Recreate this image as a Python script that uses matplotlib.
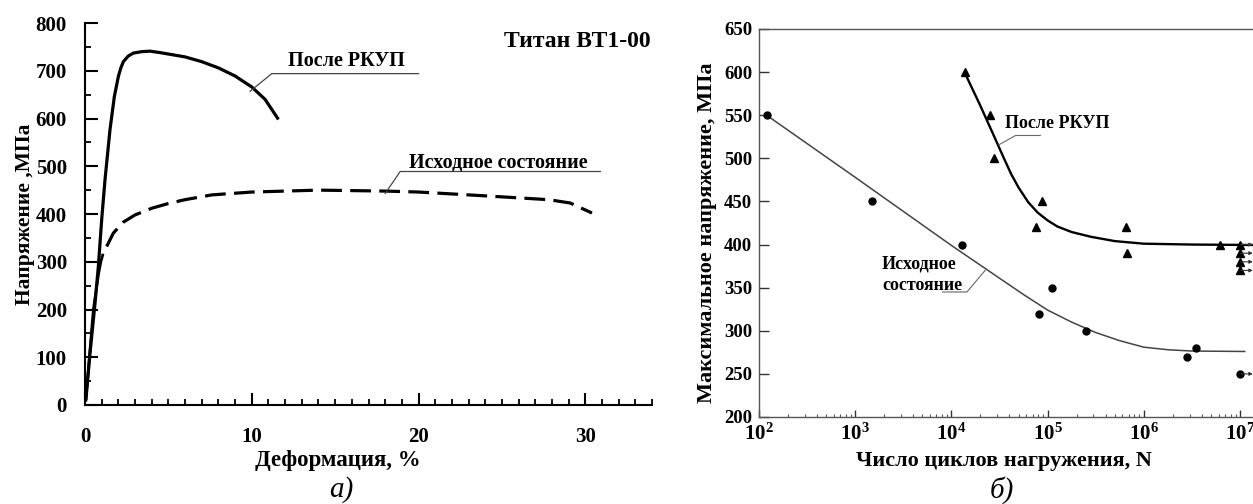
import numpy as np
import matplotlib
matplotlib.use('Agg')
import matplotlib.pyplot as plt

plt.rcParams['font.family'] = ['Liberation Serif', 'DejaVu Serif']
plt.rcParams['font.weight'] = 'bold'
plt.rcParams['mathtext.fontset'] = 'custom'
plt.rcParams['mathtext.rm'] = 'Liberation Serif:bold'
plt.rcParams['mathtext.it'] = 'Liberation Serif:bold'
plt.rcParams['mathtext.bf'] = 'Liberation Serif:bold'

# --- a) stress-strain curves, titanium VT1-00 ---
ecap_strain = [0.05, 0.3, 0.6, 0.8, 1.0, 1.2, 1.5, 1.76, 2.0, 2.15, 2.3, 2.6, 2.9, 3.4, 3.9,
               4.5, 5.0, 6.0, 7.0, 8.0, 9.0, 10.0, 10.8, 11.6]
ecap_stress = [10, 108, 213, 290, 388, 472, 577, 646, 688, 706, 719, 731, 737, 740, 741,
               738, 735, 729, 719, 706, 689, 666, 640, 598]

init_elastic_strain = [0.05, 0.5, 0.8, 0.95, 1.06]
init_elastic_stress = [10, 199, 272, 300, 314]

init_strain = [1.3, 1.7, 2.3, 3.0, 4.0, 5.0, 6.0, 7.6, 10, 14, 18, 20, 24, 27.8, 29.1, 30.4]
init_stress = [332, 360, 383, 398, 412, 422, 430, 440, 446, 450, 448, 446, 438, 430, 423, 402]

# --- b) fatigue (S-N) data ---
init_N = [1.2e2, 1.5e3, 1.3e4, 8.1e4, 1.1e5, 2.5e5, 2.8e6, 3.5e6, 1e7]
init_S = [550, 450, 400, 320, 350, 300, 270, 280, 250]
ecap_N = [1.4e4, 2.5e4, 2.8e4, 8.7e4, 7.6e4, 6.5e5, 6.7e5, 6.2e6, 1e7, 1e7, 1e7, 1e7]
ecap_S = [600, 550, 500, 450, 420, 420, 390, 400, 400, 390, 380, 370]

init_fit_N = [1.2e2, 1e3, 1e4, 3.16e4, 5.62e4, 1e5, 1.78e5, 3.16e5, 5.62e5, 1e6, 1.78e6,
              3.16e6, 1.12e7]
init_fit_S = [550, 478, 399, 361, 342, 324, 310, 298, 288.5, 281, 278, 276.5, 276]
ecap_fit_N = [1.38e4, 2e4, 2.82e4, 3.55e4, 4.17e4, 5e4, 6.3e4, 7.9e4, 1e5, 1.26e5, 1.78e5,
              2.82e5, 5e5, 1e6, 3.16e6, 1.35e7]
ecap_fit_S = [599, 561, 524, 499, 482, 466, 449, 437, 428, 421, 414.5, 409, 404, 401, 400, 399.5]

runout_N = 1e7
runout_ecap = [400, 390, 380, 370]
runout_init = [250]

sn_ticks = [1e2, 1e3, 1e4, 1e5, 1e6, 1e7]
sn_tick_labels = ['$10^{2}$', '$10^{3}$', '$10^{4}$', '$10^{5}$', '$10^{6}$', '$10^{7}$']

W, H = 1253, 504
fig = plt.figure(figsize=(W / 100, H / 100), dpi=100)

# left panel
ax1 = fig.add_axes([85 / W, 1 - 405 / H, 567 / W, 382 / H])
ax1.plot(ecap_strain, ecap_stress, color='black', lw=2.3, solid_capstyle='butt')
ax1.plot(init_elastic_strain, init_elastic_stress, color='black', lw=2.0)
ax1.plot(init_strain, init_stress, color='black', lw=2.3, dashes=(6.5, 2.6))
ax1.set_xlim(0, 34)
ax1.set_ylim(0, 800)
ax1.set_xticks([0, 10, 20, 30])
ax1.set_xticks(np.arange(0, 35, 1), minor=True)
ax1.set_yticks(np.arange(0, 801, 100))
ax1.set_yticks(np.arange(0, 801, 50), minor=True)
ax1.spines['top'].set_visible(False)
ax1.spines['right'].set_visible(False)
for s in ['left', 'bottom']:
    ax1.spines[s].set_linewidth(1.5)
ax1.tick_params(which='major', direction='in', length=9, width=1.5, labelsize=15)
ax1.tick_params(which='minor', direction='in', length=4, width=1.3)
ax1.tick_params(axis='x', which='major', pad=16)
ax1.tick_params(axis='y', which='major', pad=13)
ax1.set_xlabel('Деформация, %', fontsize=16.5, fontweight='bold')
ax1.xaxis.set_label_coords(0.445, -0.145)
ax1.xaxis.label.set_va('center')
ax1.set_ylabel('Напряжение ,МПа', fontsize=15.5, fontweight='bold')
ax1.yaxis.set_label_coords(-0.105, 0.5)
ax1.yaxis.label.set_va('center')

ax1.text(33.9, 761, 'Титан ВТ1-00', ha='right', va='center', fontsize=17, fontweight='bold')
ax1.text(15.7, 720, 'После РКУП', ha='center', va='center', fontsize=14.5, fontweight='bold')
ax1.plot([9.9, 11.2, 20.0], [657, 694, 694], color='#444444', lw=0.9)
ax1.text(24.8, 507, 'Исходное состояние', ha='center', va='center', fontsize=14.5, fontweight='bold')
ax1.plot([18.0, 18.9, 30.9], [443, 489, 489], color='#444444', lw=0.9)

fig.text(341 / W, 1 - 490 / H, 'а)', ha='center', va='center', fontsize=21,
         fontstyle='italic', fontweight='normal')

# right panel
ax2 = fig.add_axes([759 / W, 1 - 417 / H, (W - 759) / W, 388 / H])
ax2.set_xscale('log')
ax2.plot(init_fit_N, init_fit_S, color='#444444', lw=1.1)
ax2.plot(ecap_fit_N, ecap_fit_S, color='black', lw=1.7)
ax2.plot(init_N, init_S, 'o', color='black', ms=5)
ax2.plot(ecap_N, ecap_S, '^', color='black', ms=5.5)
for y in runout_ecap + runout_init:
    ax2.annotate('', xy=(1.36e7, y), xytext=(runout_N * 1.02, y),
                 arrowprops=dict(arrowstyle='-|>', lw=0.8, color='#333333',
                                 mutation_scale=5, shrinkA=0, shrinkB=0))
ax2.set_xlim(1e2, 1.365e7)
ax2.set_ylim(200, 650)
ax2.set_xticks(sn_ticks)
ax2.set_xticklabels(sn_tick_labels)
ax2.set_yticks(np.arange(200, 651, 50))
ax2.spines['right'].set_visible(False)
for s in ['left', 'bottom', 'top']:
    ax2.spines[s].set_linewidth(1.0)
    ax2.spines[s].set_color('#555555')
ax2.tick_params(which='major', direction='in', labelsize=13.5, width=1.0, color='#333333')
ax2.tick_params(axis='x', which='major', labelsize=15)
ax2.tick_params(axis='y', which='major', length=7, pad=5)
ax2.tick_params(axis='x', which='major', length=5, pad=5)
ax2.tick_params(axis='x', which='minor', direction='in', length=2.5, width=0.8, color='#555555')
ax2.tick_params(axis='y', which='minor', left=False)
ax2.set_xlabel('Число циклов нагружения, N', fontsize=16, fontweight='bold')
ax2.xaxis.set_label_coords((1004 - 759) / (W - 759), -(461 - 417) / 388)
ax2.xaxis.label.set_va('center')
ax2.set_ylabel('Максимальное напряжение, МПа', fontsize=16, fontweight='bold')
ax2.yaxis.set_label_coords(-(759 - 707) / (W - 759), (417 - 233) / 388)
ax2.yaxis.label.set_va('center')

ax2.text(1.26e5, 540, 'После РКУП', ha='center', va='center', fontsize=13, fontweight='bold')
ax2.plot([3.1e4, 4.65e4, 8.4e4], [515.6, 526.5, 526.5], color='#666666', lw=0.8)
ax2.text(1.9e3, 365, 'Исходное\nсостояние', ha='left', va='center', fontsize=13,
         fontweight='bold', linespacing=1.4)
ax2.plot([8.1e3, 1.45e4, 2.24e4], [345, 345, 370], color='#666666', lw=0.8)

fig.text(1002 / W, 1 - 490 / H, 'б)', ha='center', va='center', fontsize=21,
         fontstyle='italic', fontweight='normal')

fig.savefig('out.png', dpi=100)
